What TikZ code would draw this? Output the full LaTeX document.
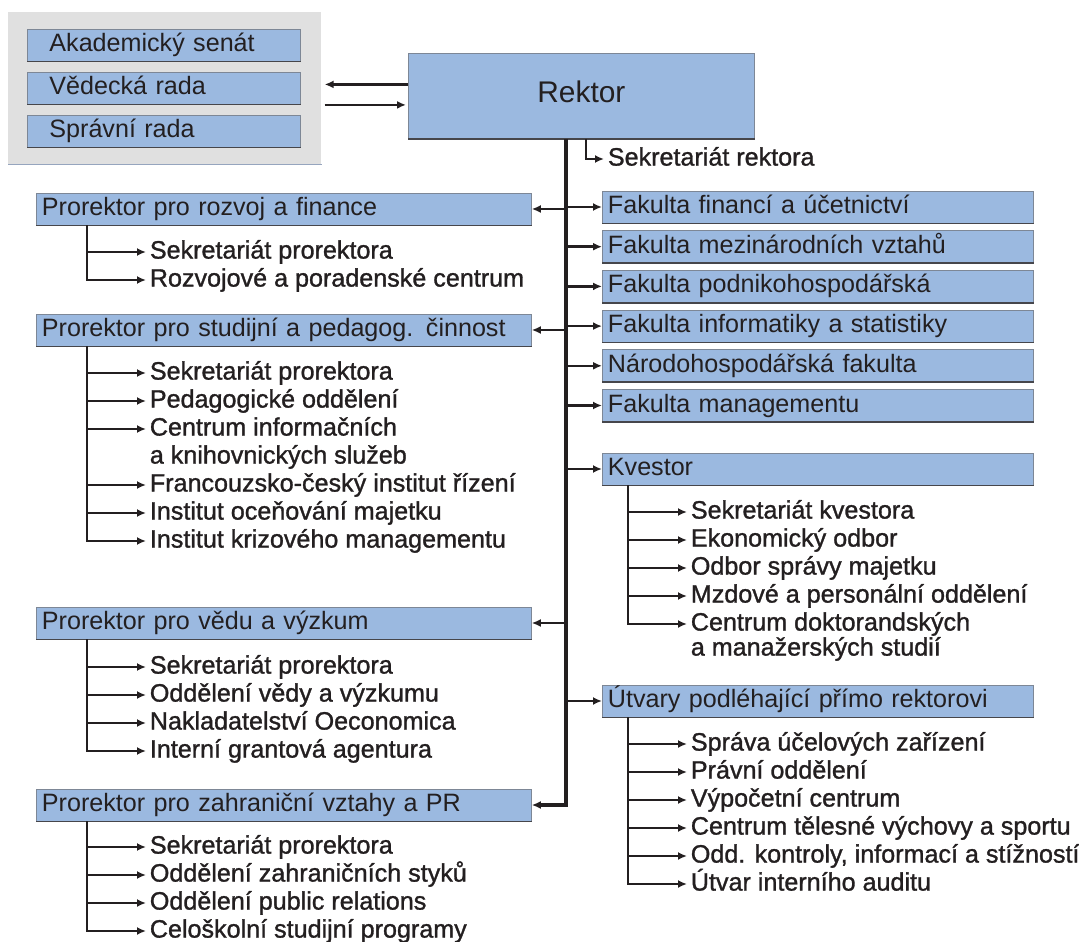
\documentclass[tikz,border=0pt]{standalone}
\usepackage{fontspec}
\setmainfont{Liberation Sans}
\newfontfamily\itemfont{Liberation Sans}[FakeBold=1.2]
\usetikzlibrary{arrows.meta,positioning,calc}
\definecolor{boxblue}{RGB}{155,185,224}
\definecolor{boxedge}{RGB}{125,135,150}
\definecolor{boxshadow}{RGB}{70,70,75}
\definecolor{panelgrey}{RGB}{224,224,224}
\definecolor{panelline}{RGB}{150,165,190}
\definecolor{inkblack}{RGB}{35,31,32}
\newcommand{\boxsize}{\fontsize{14.3pt}{17pt}\selectfont}

\tikzset{
  unit/.style={draw=boxedge, fill=boxblue, line width=0.5pt, anchor=west, align=left,
    minimum height=0.64cm, inner xsep=0.11cm, inner ysep=0pt, text height=10.5pt, text depth=3pt,
    font=\boxsize, text=inkblack,
    append after command={(\tikzlastnode.south west) edge[draw=boxshadow, line width=1pt] (\tikzlastnode.south east)}},
  prorektor/.style={unit, text width=9.68cm},
  fakulta/.style={unit, text width=8.40cm},
  rada/.style={unit, inner xsep=0.44cm, text width=4.58cm},
  panel/.style={fill=panelgrey, draw=none, inner sep=0pt, anchor=north west},
  item/.style={anchor=west, inner xsep=2pt, inner ysep=0pt, text height=10.5pt, text depth=3pt,
    font=\itemfont\boxsize, text=inkblack},
  link/.style={draw=inkblack, line width=1.4pt, -{Latex[length=1.8mm,width=1.6mm]}},
  trunk/.style={link, line width=2.1pt},
}

\begin{document}
\begin{tikzpicture}[x=0.02cm, y=-0.02cm]
  \useasboundingbox (0,0) rectangle (1079,942);
  % Rady on the left top
  \node[panel, minimum width=6.26cm, minimum height=3.04cm] (rady) at (8,12) {};
  \draw[panelline, line width=0.8pt] (rady.south west) -- (rady.south east);
  \foreach \txt [count=\i] in {Akademický senát, Vědecká rada, Správní rada} {
    \node[rada] (rada\i) at (27, {45+(\i-1)*43}) {\txt};
  }
  % Rektor
  \node[unit, anchor=north west, minimum width=6.92cm, minimum height=1.7cm,
    font=\fontsize{17pt}{20pt}\selectfont] (rektor) at (408,53) {Rektor};
  \draw[link, shorten >=0.06cm] ([yshift=0.23cm]rektor.west) -- ([yshift=0.23cm]rektor.west -| rady.east);
  \draw[link, shorten <=0.06cm, shorten >=0.04cm] ([yshift=-0.18cm]rektor.west -| rady.east) -- ([yshift=-0.18cm]rektor.west);
  % Sekretariat rektora
  \coordinate (sk) at (586,0);
  \node[item] (sekr) at (604,159) {Sekretariát rektora};
  \draw[link, line width=1.1pt] (rektor.south -| sk) |- (sekr.west);
  % Prorektori
  \node[prorektor] (rozvoj) at (36,209) {Prorektor pro rozvoj a finance};
  \node[prorektor] (studium) at (36,330) {Prorektor pro studijní a pedagog. činnost};
  \node[prorektor] (veda) at (36,623) {Prorektor pro vědu a výzkum};
  \node[prorektor] (zahranici) at (36,805) {Prorektor pro zahraniční vztahy a PR};
  % Fakulty
  \foreach \txt [count=\i] in {Fakulta financí a účetnictví, Fakulta mezinárodních vztahů,
      Fakulta podnikohospodářská, Fakulta informatiky a statistiky,
      Národohospodářská fakulta, Fakulta managementu} {
    \node[fakulta] (fak\i) at (602, {207+(\i-1)*39.7}) {\txt};
  }
  \node[fakulta] (kvestor) at (602,469) {Kvestor};
  \node[fakulta] (utvary) at (602,701) {Útvary podléhající přímo rektorovi};
  % Main trunk
  \coordinate (axis) at (566,0);
  \draw[trunk] (rektor.south -| axis) |- (zahranici.east);
  \foreach \n in {rozvoj, studium, veda} {
    \draw[link] (axis |- \n.east) -- (\n.east);
  }
  \foreach \n in {fak1, fak2, fak3, fak4, fak5, fak6, kvestor, utvary} {
    \draw[link] (axis |- \n.west) -- (\n.west);
  }
  % Lists
  \coordinate (lt) at (87,0);
  \coordinate (rt) at (628,0);
  \foreach \txt [count=\i] in {Sekretariát prorektora, Rozvojové a poradenské centrum} {
    \node[item] (rozvoj\i) at (146, {252+(\i-1)*28}) {\txt};
    \draw[link] (rozvoj.south -| lt) |- (rozvoj\i.west);
  }
  \foreach \k/\txt in {0/Sekretariát prorektora, 1/Pedagogické oddělení, 2/Centrum informačních,
      4/Francouzsko-český institut řízení, 5/Institut oceňování majetku, 6/Institut krizového managementu} {
    \node[item] (studium\k) at (146, {373+\k*28}) {\txt};
    \draw[link] (studium.south -| lt) |- (studium\k.west);
  }
  \node[item] (studium3) at (146, 401+56) {a knihovnických služeb};
  \foreach \txt [count=\i] in {Sekretariát prorektora, Oddělení vědy a výzkumu,
      Nakladatelství Oeconomica, Interní grantová agentura} {
    \node[item] (veda\i) at (146, {667+(\i-1)*28}) {\txt};
    \draw[link] (veda.south -| lt) |- (veda\i.west);
  }
  \foreach \txt [count=\i] in {Sekretariát prorektora, Oddělení zahraničních styků,
      Oddělení public relations, Celoškolní studijní programy} {
    \node[item] (zahranici\i) at (146, {847+(\i-1)*28}) {\txt};
    \draw[link] (zahranici.south -| lt) |- (zahranici\i.west);
  }
  \foreach \txt [count=\i] in {Sekretariát kvestora, Ekonomický odbor, Odbor správy majetku,
      Mzdové a personální oddělení, Centrum doktorandských} {
    \node[item] (kvestor\i) at (687, {512+(\i-1)*28}) {\txt};
    \draw[link] (kvestor.south -| rt) |- (kvestor\i.west);
  }
  \node[item] (kvestor6) at (687, 649) {a manažerských studií};
  \foreach \txt [count=\i] in {Správa účelových zařízení, Právní oddělení, Výpočetní centrum,
      Centrum tělesné výchovy a sportu, {Odd. kontroly, informací a stížností}, Útvar interního auditu} {
    \node[item] (utvary\i) at (687, {744+(\i-1)*28}) {\txt};
    \draw[link] (utvary.south -| rt) |- (utvary\i.west);
  }
\end{tikzpicture}
\end{document}
